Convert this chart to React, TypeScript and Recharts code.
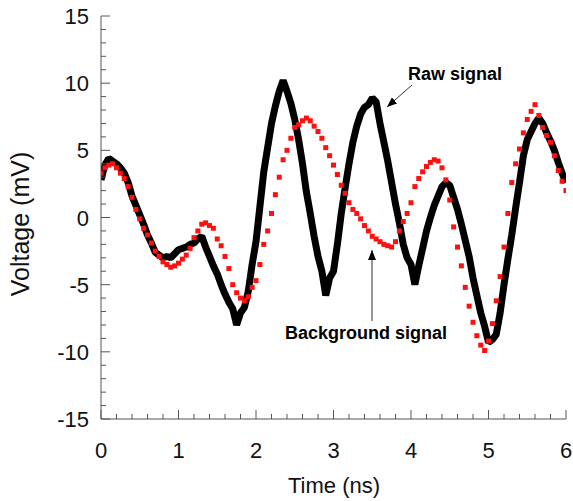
import { ComposedChart, Line, Scatter, XAxis, YAxis } from 'recharts'

const TIME = [
  0, 0.05, 0.1, 0.15, 0.2, 0.25, 0.3, 0.35, 0.4, 0.45, 0.5, 0.55, 0.6, 0.65, 0.7, 0.75, 0.8, 0.85, 0.9, 0.95,
  1, 1.05, 1.1, 1.15, 1.2, 1.25, 1.3, 1.35, 1.4, 1.45, 1.5, 1.55, 1.6, 1.65, 1.7, 1.75, 1.8, 1.85, 1.9, 1.95,
  2, 2.05, 2.1, 2.15, 2.2, 2.25, 2.3, 2.35, 2.4, 2.45, 2.5, 2.55, 2.6, 2.65, 2.7, 2.75, 2.8, 2.85, 2.9, 2.95,
  3, 3.05, 3.1, 3.15, 3.2, 3.25, 3.3, 3.35, 3.4, 3.45, 3.5, 3.55, 3.6, 3.65, 3.7, 3.75, 3.8, 3.85, 3.9, 3.95,
  4, 4.05, 4.1, 4.15, 4.2, 4.25, 4.3, 4.35, 4.4, 4.45, 4.5, 4.55, 4.6, 4.65, 4.7, 4.75, 4.8, 4.85, 4.9, 4.95,
  5, 5.05, 5.1, 5.15, 5.2, 5.25, 5.3, 5.35, 5.4, 5.45, 5.5, 5.55, 5.6, 5.65, 5.7, 5.75, 5.8, 5.85, 5.9, 5.95,
  6,
]

// raw signal (black)
const RAW = [
  2.8, 3.9, 4.4, 4.2, 4.0, 3.7, 3.3, 2.6, 1.6, 0.9, 0.2, -0.5, -1.3, -1.9, -2.6, -2.8, -3.0, -2.9, -3.0, -2.7,
  -2.4, -2.3, -2.2, -2.0, -1.9, -1.6, -1.4, -2.2, -2.9, -3.6, -4.2, -5.0, -5.7, -6.3, -6.8, -8.0, -7.1, -6.7, -5.5, -3.5,
  -1.8, 0.8, 3.4, 5.2, 7.0, 8.3, 9.4, 10.2, 9.4, 8.5, 7.3, 5.8, 4.0, 1.9, 0.3, -1.4, -2.9, -4.0, -5.8, -4.5,
  -4.0, -2.0, 0.3, 2.2, 4.0, 5.6, 6.8, 7.7, 8.2, 8.4, 8.9, 8.6, 7.0, 5.6, 4.2, 2.6, 1.0, -0.4, -2.0, -3.0,
  -3.5, -5.0, -3.6, -2.3, -1.0, 0.0, 0.9, 1.6, 2.3, 2.6, 2.4, 1.5, 0.6, -0.5, -1.7, -2.9, -4.5, -5.8, -7.1, -8.1,
  -9.3, -9.1, -8.7, -7.1, -5.0, -3.1, -1.3, 0.7, 2.6, 4.6, 5.8, 6.4, 7.0, 7.4, 7.0, 6.3, 5.7, 5.0, 4.1, 3.3,
  2.6,
]

// background signal (red)
const BACKGROUND = [
  3.3, 3.7, 3.9, 4.0, 3.7, 3.3, 2.9, 2.3, 1.5, 0.6, -0.1, -0.8, -1.3, -1.9, -2.5, -2.9, -3.3, -3.5, -3.7, -3.6,
  -3.4, -3.1, -2.8, -2.3, -1.5, -1.0, -0.5, -0.4, -0.6, -0.8, -1.6, -2.1, -2.9, -3.8, -5.0, -5.6, -6.0, -6.2, -5.9, -5.2,
  -4.7, -3.5, -2.0, -1.0, 0.3, 1.7, 3.0, 4.3, 5.0, 5.9, 6.7, 6.9, 7.2, 7.4, 7.2, 6.8, 6.4, 5.9, 5.2, 4.6,
  3.9, 3.2, 2.4, 1.8, 1.1, 0.6, 0.3, -0.1, -0.6, -1.0, -1.4, -1.6, -1.8, -2.0, -2.1, -2.2, -1.8, -1.0, -0.3, 0.3,
  1.1, 2.3, 2.9, 3.4, 3.8, 4.1, 4.3, 4.2, 3.7, 2.8, 1.3, -0.7, -2.2, -3.6, -5.2, -6.6, -7.8, -8.8, -9.5, -9.9,
  -9.2, -7.9, -6.2, -4.4, -2.2, 0.3, 2.6, 4.0, 5.1, 6.3, 7.3, 7.9, 8.4, 7.6, 6.7, 6.1, 5.6, 4.6, 3.5, 2.7,
  2.0,
]

const X_TICKS = [
  0, 0.2, 0.4, 0.6, 0.8, 1, 1.2, 1.4, 1.6, 1.8, 2, 2.2, 2.4, 2.6, 2.8, 3, 3.2, 3.4, 3.6, 3.8, 4, 4.2, 4.4, 4.6, 4.8,
  5, 5.2, 5.4, 5.6, 5.8, 6,
]
const Y_TICKS = [
  -15, -14, -13, -12, -11, -10, -9, -8, -7, -6, -5, -4, -3, -2, -1, 0, 1, 2, 3, 4, 5, 6, 7, 8, 9, 10, 11, 12, 13,
  14, 15,
]

const rawData = TIME.map((t, i) => ({ t, v: RAW[i] }))
const bgData = TIME.map((t, i) => ({ t, v: BACKGROUND[i] }))

const FONT = '"Liberation Sans", Arial, sans-serif'
const AXIS = '#555'

const isMajorX = (v: number) => Math.abs(v - Math.round(v)) < 1e-6
const isMajorY = (v: number) => v % 5 === 0

function BottomTick({ x, y, payload }: any) {
  const major = isMajorX(payload.value)
  return (
    <g>
      <line x1={x} x2={x} y1={y} y2={y - (major ? 9 : 5)} stroke={AXIS} />
      {major && (
        <text x={x} y={y + 39} textAnchor="middle" fontSize={22} fill="#111" fontFamily={FONT}>
          {payload.value}
        </text>
      )}
    </g>
  )
}

function TopTick({ x, y, payload }: any) {
  const major = isMajorX(payload.value)
  return <line x1={x} x2={x} y1={y} y2={y + (major ? 9 : 5)} stroke={AXIS} />
}

function LeftTick({ x, y, payload }: any) {
  const major = isMajorY(payload.value)
  return (
    <g>
      <line x1={x} x2={x + (major ? 9 : 5)} y1={y} y2={y} stroke={AXIS} />
      {major && (
        <text x={x - 12} y={y + 8} textAnchor="end" fontSize={22} fill="#111" fontFamily={FONT}>
          {payload.value}
        </text>
      )}
    </g>
  )
}

function RightTick({ x, y, payload }: any) {
  const major = isMajorY(payload.value)
  return <line x1={x} x2={x - (major ? 9 : 5)} y1={y} y2={y} stroke={AXIS} />
}

function RedSquare({ cx, cy }: any) {
  return <rect x={cx - 2.5} y={cy - 2.5} width={5} height={5} fill="#ff1010" />
}

export default function App() {
  return (
    <div style={{ position: 'absolute', left: 0, top: 0, width: 573, height: 501, background: '#fff' }}>
      <ComposedChart width={573} height={501} margin={{ top: 16, right: 7, bottom: 0, left: 0 }}>
        <XAxis
          dataKey="t"
          type="number"
          domain={[0, 6]}
          ticks={X_TICKS}
          interval={0}
          height={82}
          tickSize={0}
          tickMargin={0}
          tickLine={false}
          axisLine={{ stroke: AXIS }}
          tick={<BottomTick />}
          allowDataOverflow
        />
        <XAxis
          xAxisId="top"
          orientation="top"
          dataKey="t"
          type="number"
          domain={[0, 6]}
          ticks={X_TICKS}
          interval={0}
          height={0}
          tickSize={0}
          tickMargin={0}
          tickLine={false}
          axisLine={{ stroke: AXIS }}
          tick={<TopTick />}
          allowDataOverflow
        />
        <YAxis
          type="number"
          domain={[-15, 15]}
          ticks={Y_TICKS}
          interval={0}
          width={101}
          tickSize={0}
          tickMargin={0}
          tickLine={false}
          axisLine={{ stroke: AXIS }}
          tick={<LeftTick />}
          allowDataOverflow
        />
        <YAxis
          yAxisId="right"
          orientation="right"
          type="number"
          domain={[-15, 15]}
          ticks={Y_TICKS}
          interval={0}
          width={0}
          tickSize={0}
          tickMargin={0}
          tickLine={false}
          axisLine={{ stroke: AXIS }}
          tick={<RightTick />}
          allowDataOverflow
        />
        <Line
          data={rawData}
          dataKey="v"
          type="linear"
          stroke="#000"
          strokeWidth={7}
          strokeLinejoin="bevel"
          dot={false}
          isAnimationActive={false}
        />
        <Scatter data={bgData} dataKey="v" shape={<RedSquare />} isAnimationActive={false} />
      </ComposedChart>
      <svg
        width={573}
        height={501}
        style={{ position: 'absolute', left: 0, top: 0, pointerEvents: 'none' }}
        fontFamily={FONT}
      >
        <defs>
          <marker id="arrowhead" markerWidth="10" markerHeight="8" refX="10" refY="4" orient="auto" markerUnits="userSpaceOnUse">
            <path d="M0,0 L10,4 L0,8 Z" fill="#000" />
          </marker>
        </defs>
        <text x={334} y={493} textAnchor="middle" fontSize={22} fill="#111">
          Time (ns)
        </text>
        <text
          x={0}
          y={0}
          transform="translate(29,224) rotate(-90)"
          textAnchor="middle"
          fontSize={25}
          fill="#111"
        >
          Voltage (mV)
        </text>
        <text x={408} y={80} fontSize={18} fontWeight="bold" fill="#000">
          Raw signal
        </text>
        <line x1={412} y1={85} x2={387} y2={107} stroke="#333" strokeWidth={1} markerEnd="url(#arrowhead)" />
        <text x={285} y={339} fontSize={18} fontWeight="bold" fill="#000">
          Background signal
        </text>
        <line x1={372} y1={321} x2={372} y2={250} stroke="#333" strokeWidth={1} markerEnd="url(#arrowhead)" />
      </svg>
    </div>
  )
}
